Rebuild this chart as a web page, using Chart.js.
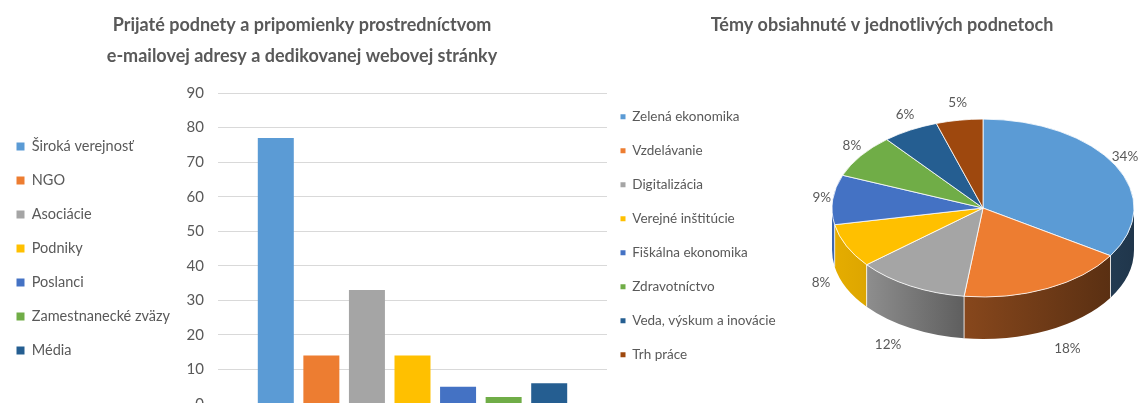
<!DOCTYPE html>
<html><head><meta charset="utf-8">
<script src="https://cdn.jsdelivr.net/npm/chart.js@4/dist/chart.umd.min.js"></script>
<style>
html,body{margin:0;padding:0;background:#fff;width:1139px;height:403px;overflow:hidden;position:relative}
#barWrap{position:absolute;left:-24px;top:0;width:631px;height:420px}
#pieWrap{position:absolute;left:600px;top:0;width:564px;height:492px}
</style></head><body>
<div id="barWrap"><canvas id="bar"></canvas></div>
<div id="pieWrap"><canvas id="pie"></canvas></div>
<script>
// ---- data ----
const barTitle = ['Prijaté podnety a pripomienky prostredníctvom', 'e-mailovej adresy a dedikovanej webovej stránky'];
const barSeries = ['Široká verejnosť', 'NGO', 'Asociácie', 'Podniky', 'Poslanci', 'Zamestnanecké zväzy', 'Média'];
const barValues = [77, 14, 33, 14, 5, 2, 6];
const barColors = ['#5B9BD5', '#ED7D31', '#A5A5A5', '#FFC000', '#4472C4', '#70AD47', '#255E91'];
const yMin = 0, yMax = 90, yStep = 10;

const pieTitle = 'Témy obsiahnuté v jednotlivých podnetoch';
const pieLabels = ['Zelená ekonomika', 'Vzdelávanie', 'Digitalizácia', 'Verejné inštitúcie', 'Fiškálna ekonomika', 'Zdravotníctvo', 'Veda, výskum a inovácie', 'Trh práce'];
const pieValues = [34, 18, 12, 8, 9, 8, 6, 5];
const pieColors = ['#5B9BD5', '#ED7D31', '#A5A5A5', '#FFC000', '#4472C4', '#70AD47', '#255E91', '#9E480E'];

// ---- styling ----
const TEXT = '#595959';
const FAMILY = 'Lato, "Liberation Sans", sans-serif';
Chart.defaults.font.family = FAMILY;
Chart.defaults.color = TEXT;

const fixedLegendWidth = {
  id: 'fixedLegendWidth',
  afterInit(chart, args, opts) {
    const lg = chart.legend;
    if (!lg) return;
    const orig = lg.fit.bind(lg);
    lg.fit = function () { orig(); if (opts && opts.width) this.width = opts.width; };
  }
};

function shade(hex, f) {
  const n = parseInt(hex.slice(1), 16);
  const r = Math.round(((n >> 16) & 255) * f), g = Math.round(((n >> 8) & 255) * f), b = Math.round((n & 255) * f);
  return `rgb(${r},${g},${b})`;
}

const pie3d = {
  id: 'pie3d',
  geom(chart, opts) {
    const arcs = chart.getDatasetMeta(0).data;
    const T = chart.chartArea.top, s = opts.tilt;
    const a0 = arcs[0];
    return { arcs, T, s, cx: a0.x, ey: T + (a0.y - T) * s, rx: a0.outerRadius, ry: a0.outerRadius * s, depth: opts.depth };
  },
  beforeDatasetsDraw(chart, args, opts) {
    const ctx = chart.ctx;
    const { arcs, T, s, cx, ey, rx, ry, depth } = this.geom(chart, opts);
    const colors = chart.data.datasets[0].backgroundColor;
    ctx.save();
    arcs.forEach((a, i) => {
      const a1 = Math.max(a.startAngle, 0), a2 = Math.min(a.endAngle, Math.PI);
      if (a2 <= a1) return;
      const g = ctx.createLinearGradient(cx - rx, 0, cx + rx, 0);
      opts.shade.forEach(([p, f]) => g.addColorStop(p, shade(colors[i], f)));
      ctx.beginPath();
      ctx.ellipse(cx, ey, rx, ry, 0, a1, a2, false);
      ctx.ellipse(cx, ey + depth, rx, ry, 0, a2, a1, true);
      ctx.closePath();
      ctx.fillStyle = g;
      ctx.fill();
    });
    ctx.strokeStyle = 'rgba(255,255,255,0.8)';
    ctx.lineWidth = 1;
    arcs.forEach((a) => {
      const b = a.startAngle;
      if (b > 0 && b < Math.PI) {
        const x = cx + rx * Math.cos(b), y = ey + ry * Math.sin(b);
        ctx.beginPath(); ctx.moveTo(x, y); ctx.lineTo(x, y + depth); ctx.stroke();
      }
    });
    ctx.restore();
    ctx.save();
    ctx.translate(0, T); ctx.scale(1, s); ctx.translate(0, -T);
  },
  afterDatasetsDraw(chart, args, opts) {
    const ctx = chart.ctx;
    ctx.restore();
    const { arcs, cx, ey, rx, ry, depth } = this.geom(chart, opts);
    const vals = chart.data.datasets[0].data;
    const total = vals.reduce((p, v) => p + v, 0);
    ctx.save();
    ctx.fillStyle = TEXT;
    ctx.font = '13.5px ' + FAMILY;
    ctx.textAlign = 'center';
    ctx.textBaseline = 'middle';
    arcs.forEach((a, i) => {
      const m = (a.startAngle + a.endAngle) / 2;
      const c = Math.cos(m), sn = Math.sin(m), sp = Math.max(sn, 0);
      const x = cx + (rx + 11 + 40 * sp) * c;
      const y = ey + (ry + (sn > 0 ? 22 : 18)) * sn + depth * Math.sqrt(sp);
      ctx.fillText(Math.round(vals[i] / total * 100) + '%', x, y);
    });
    ctx.restore();
  }
};

// ---- bar chart ----
new Chart(document.getElementById('bar'), {
  type: 'bar',
  data: {
    labels: [''],
    datasets: barSeries.map((s, i) => ({ label: s, data: [barValues[i]], backgroundColor: barColors[i], borderWidth: 0 }))
  },
  options: {
    responsive: true, maintainAspectRatio: false, animation: false,
    layout: { padding: { left: 21, right: 0, top: 0, bottom: 16 } },
    datasets: { bar: { categoryPercentage: 0.82, barPercentage: 0.79 } },
    scales: {
      x: { display: false },
      y: {
        min: yMin, max: yMax,
        ticks: { stepSize: yStep, padding: 14, color: TEXT, font: { size: 15 } },
        grid: { color: '#d9d9d9', drawTicks: false },
        border: { display: false },
        afterFit(scale) { scale.width = 35; scale.paddingTop = 0; scale.paddingBottom = 0; }
      }
    },
    plugins: {
      title: { display: true, text: barTitle, color: TEXT, font: { size: 18, weight: 'bold', lineHeight: 31 / 18 }, padding: { top: 10, bottom: 21 } },
      legend: { position: 'left', align: 'center', fullSize: false, labels: { boxWidth: 8, boxHeight: 8, padding: 19.5, color: TEXT, font: { size: 14.5 } } },
      tooltip: { enabled: false },
      fixedLegendWidth: { width: 186 }
    }
  },
  plugins: [fixedLegendWidth]
});

// ---- pie chart ----
const baseGen = Chart.overrides.doughnut.plugins.legend.labels.generateLabels;
new Chart(document.getElementById('pie'), {
  type: 'pie',
  data: {
    labels: pieLabels,
    datasets: [{ data: pieValues, backgroundColor: pieColors, borderColor: '#fff', borderWidth: 1, radius: 151 }]
  },
  options: {
    responsive: true, maintainAspectRatio: false, animation: false,
    radius: 151,
    layout: { padding: 0 },
    plugins: {
      title: { display: true, text: pieTitle, color: TEXT, font: { size: 18, weight: 'bold', lineHeight: 31 / 18 }, padding: { top: 10, bottom: 48.5 } },
      legend: {
        position: 'left', align: 'start', fullSize: false,
        labels: {
          boxWidth: 5, boxHeight: 5, padding: 20.5, color: TEXT, font: { size: 13.5 },
          generateLabels(chart) { return baseGen(chart).map(l => ({ ...l, lineWidth: 0 })); }
        }
      },
      tooltip: { enabled: false },
      fixedLegendWidth: { width: 202 },
      pie3d: { tilt: 0.589, depth: 42, shade: [[0, 0.9], [0.1, 0.87], [0.44, 0.57], [1, 0.35]] }
    }
  },
  plugins: [fixedLegendWidth, pie3d]
});
</script>
</body></html>
